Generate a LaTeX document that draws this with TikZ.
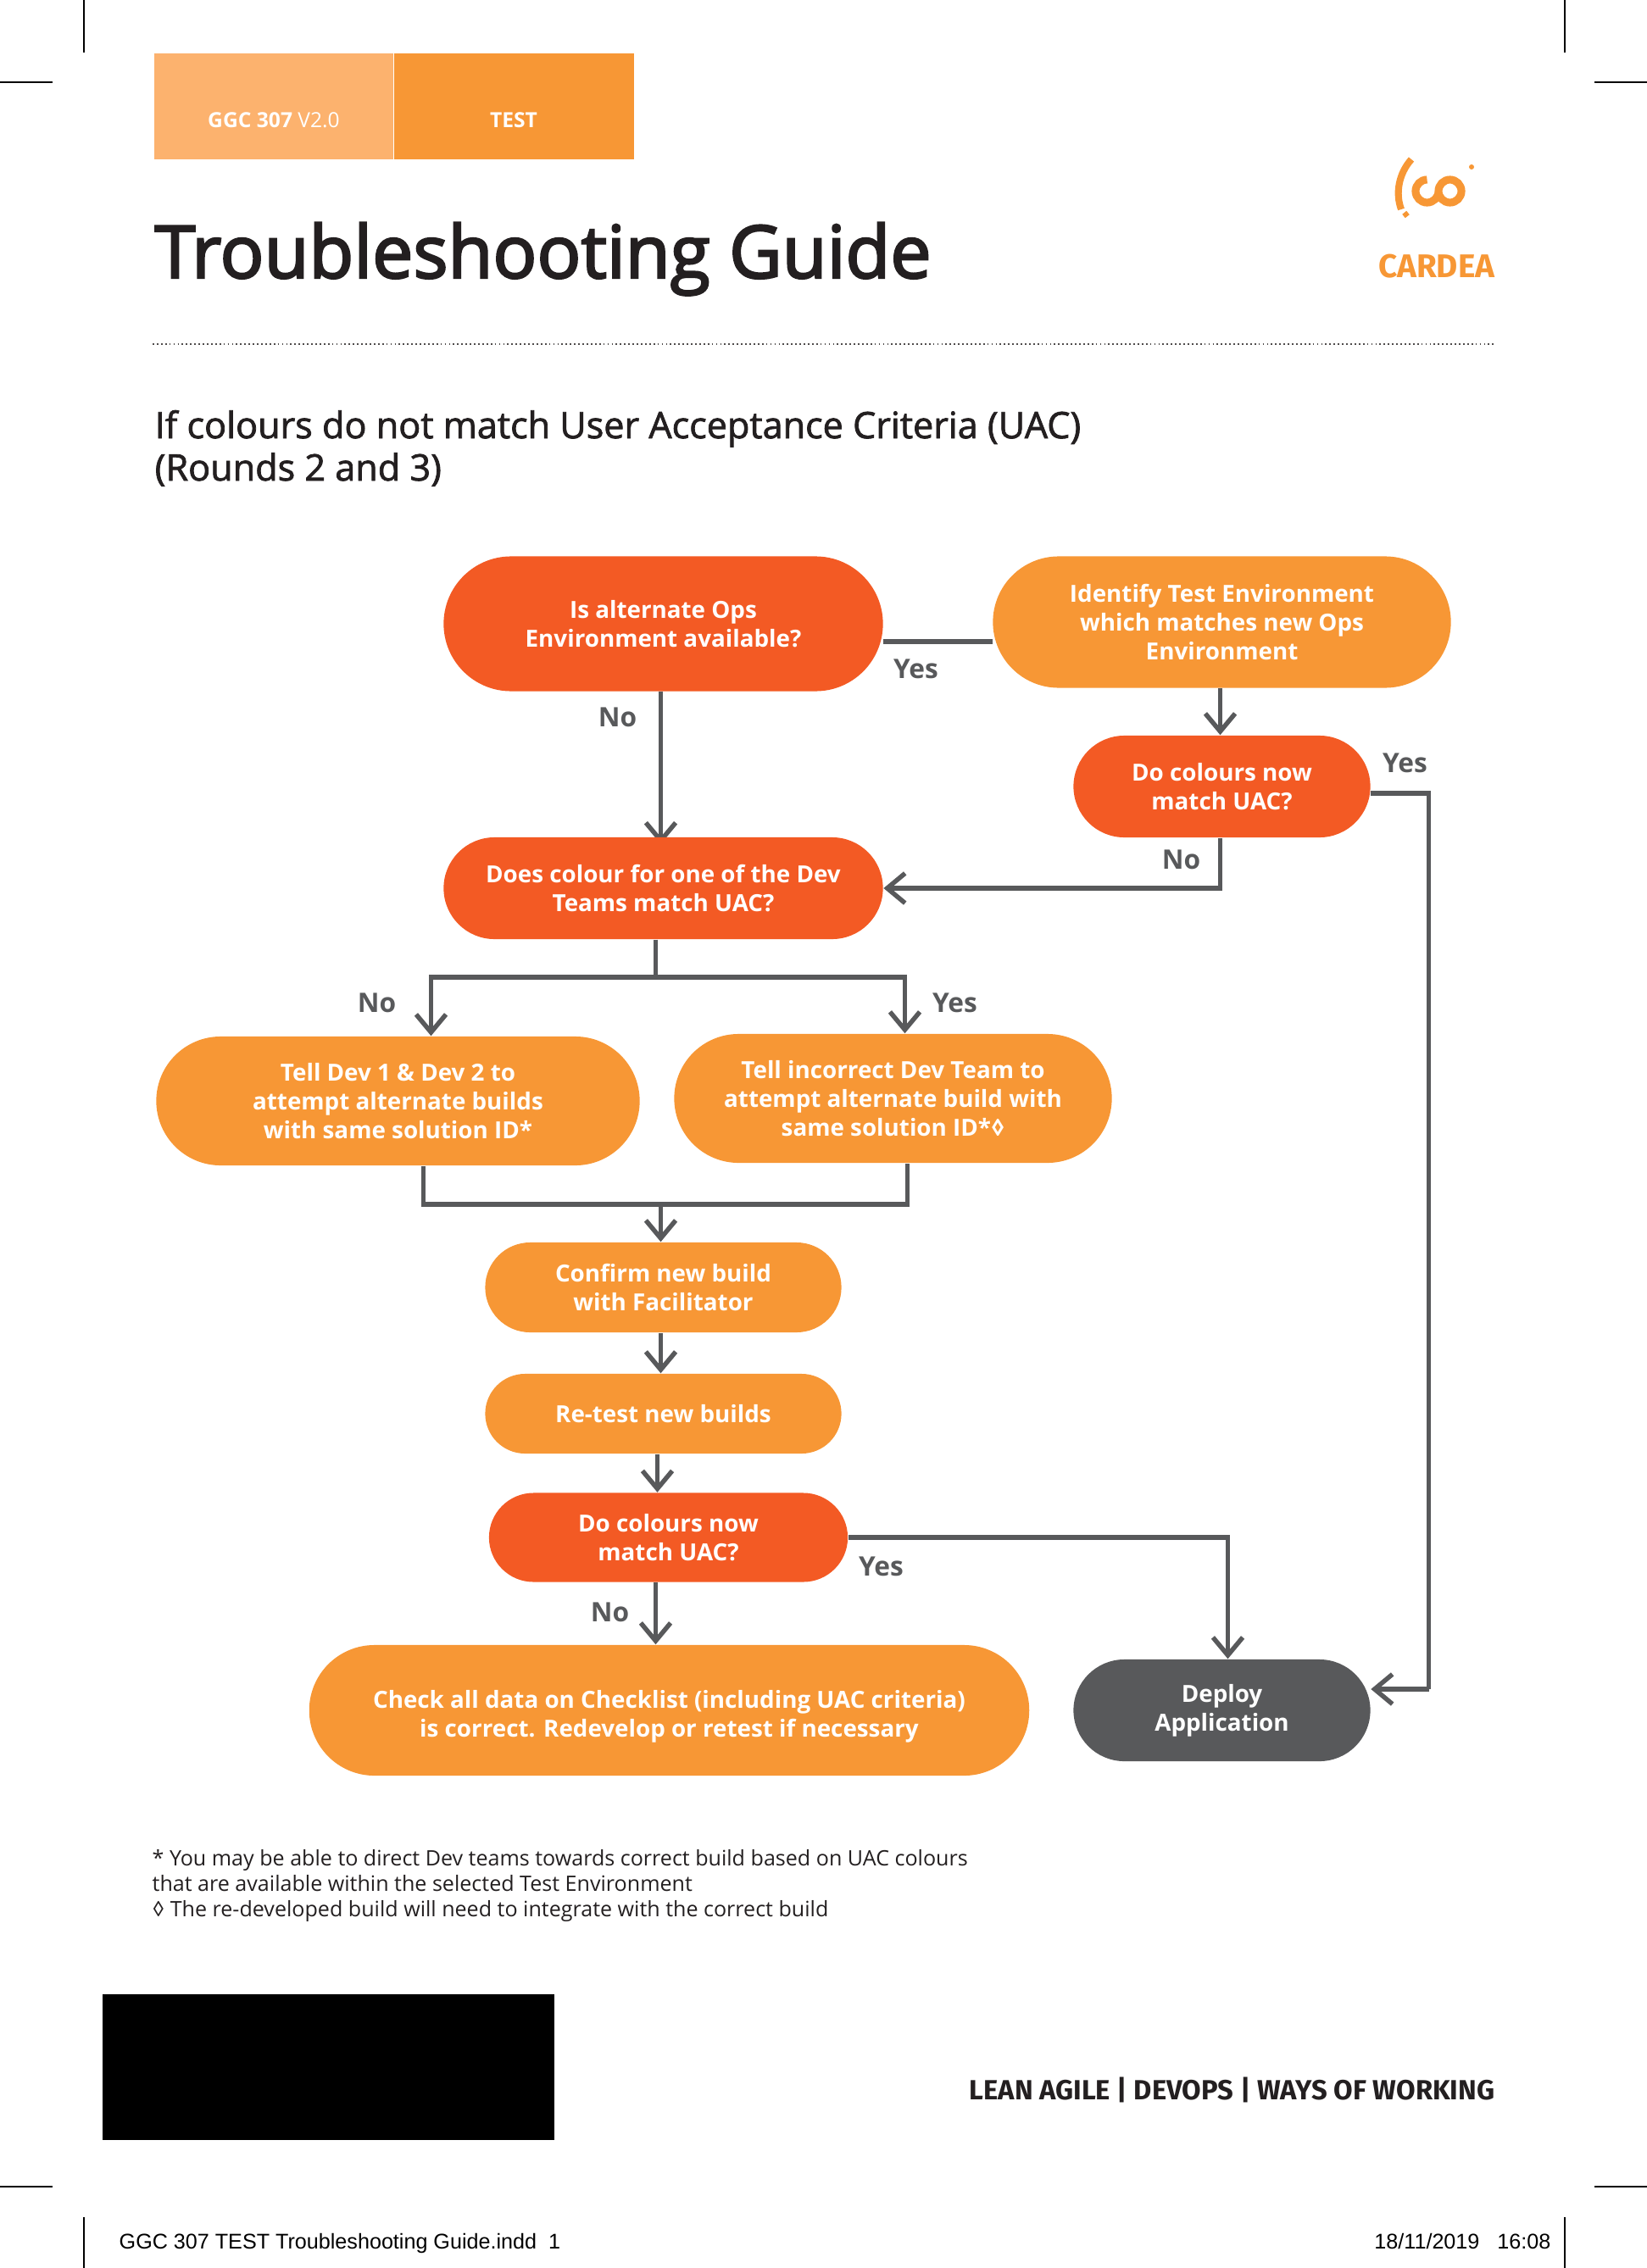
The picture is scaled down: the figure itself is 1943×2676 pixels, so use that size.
\documentclass[tikz,border=0pt]{standalone}
\usepackage{fontspec}
\setmainfont{Open Sans}
\newfontfamily\semifont[FakeBold=2.8]{Open Sans}
\newfontfamily\medfont[FakeBold=1.8]{Open Sans}
\newfontfamily\dinfont{Fira Sans}
\newfontfamily\slugfont{Liberation Sans}
\usetikzlibrary{arrows.meta,shapes.misc,backgrounds}
\definecolor{cardorange}{HTML}{F79735}
\definecolor{cardlight}{HTML}{FCB26E}
\definecolor{cardred}{HTML}{F35A24}
\definecolor{carddark}{HTML}{58595B}
\definecolor{cardink}{HTML}{231F20}

\begin{document}
\begin{tikzpicture}
[x=0.01cm,y=-0.01cm,
>={Straight Barb[length=6pt,width=10pt]},
pill/.style={rounded rectangle,inner sep=0pt,align=center,text=white,
font=\fontsize{7.9}{9.6}\selectfont\bfseries},
ask/.style={pill,fill=cardred},
act/.style={pill,fill=cardorange},
done/.style={pill,fill=carddark},
flow/.style={draw=carddark,line width=1.55pt},
answer/.style={text=carddark,inner sep=0pt,font=\fontsize{9}{11}\selectfont\bfseries},
note/.style={anchor=base west,inner sep=0pt,text=cardink,font=\fontsize{7.13}{8.6}\selectfont},
slug/.style={inner sep=0pt,text=black,font=\slugfont\fontsize{7.15}{9}\selectfont},
crop/.style={line width=0.4pt,black}]
  \useasboundingbox (0,0) rectangle (1943,2676);

  \draw [crop] (99,0) -- (99,62);
  \draw [crop] (1846,0) -- (1846,62);
  \draw [crop] (0,97) -- (62,97);
  \draw [crop] (1881,97) -- (1943,97);
  \draw [crop] (0,2580) -- (62,2580);
  \draw [crop] (1881,2580) -- (1943,2580);
  \draw [crop] (99,2616) -- (99,2676);
  \draw [crop] (1846,2616) -- (1846,2676);

  \fill [cardlight] (182,63) rectangle (464,188);
  \fill [cardorange] (465,63) rectangle (748,188);
  \node (version) [inner sep=0pt,text=white,font=\fontsize{7}{9}\selectfont] at (323,142) {\textbf{GGC 307} V2.0};
  \node (stage) [inner sep=0pt,text=white,font=\fontsize{7}{9}\selectfont\bfseries] at (606,142) {TEST};
  \node (title) [anchor=base west,inner sep=0pt,text=cardink,font=\semifont\fontsize{24.5}{28}\selectfont] at (182,328) {Troubleshooting Guide};

  \draw [cardorange,line width=2.3pt] (1665,188) .. controls (1650,205) and (1646,228) .. (1653,247);
  \draw [cardorange,line width=1.6pt] (1656,255) -- (1661,251);
  \fill [cardorange] (1736,197) circle (3);
  \draw [cardorange,line width=2.6pt] (1683.5,212) arc [start angle=90,delta angle=270,radius=0.135cm] arc [start angle=180,delta angle=-360,radius=0.135cm];
  \node (brand) [anchor=base east,inner sep=0pt,text=cardorange,font=\dinfont\fontsize{11}{12}\selectfont\bfseries] at (1764,328) {CARDEA};

  \draw [cardink!80,line width=0.5pt,dash pattern=on 0.5pt off 0.9pt] (180,406) -- (1765,406);

  \node (subhead) [anchor=base west,inner sep=0pt,align=left,text=cardink,font=\medfont\fontsize{12.27}{14.2}\selectfont] at (182,567) {If colours do not match User Acceptance Criteria (UAC)\\(Rounds 2 and 3)};

  \begin{scope}[xshift=-0.015cm]
  \node (altops) [ask,minimum width=5.18cm,minimum height=1.59cm] at (784,736) {Is alternate Ops\\Environment available?};
  \node (identify) [act,minimum width=5.40cm,minimum height=1.55cm] at (1443,734) {Identify Test Environment\\which matches new Ops\\Environment};
  \node (nowone) [ask,minimum width=3.50cm,minimum height=1.20cm] at (1443,928) {Do colours now\\match UAC?};
  \node (devmatch) [ask,minimum width=5.18cm,minimum height=1.20cm] at (784,1048) {Does colour for one of the Dev\\Teams match UAC?};
  \node (tellboth) [act,minimum width=5.70cm,minimum height=1.52cm] at (471,1299) {Tell Dev 1 \& Dev 2 to\\attempt alternate builds\\with same solution ID*};
  \node (tellone) [act,minimum width=5.16cm,minimum height=1.52cm] at (1055,1296) {Tell incorrect Dev Team to\\attempt alternate build with\\same solution ID*◊};
  \node (confirm) [act,minimum width=4.20cm,minimum height=1.06cm] at (784,1519) {Confirm new build\\with Facilitator};
  \node (retest) [act,minimum width=4.20cm,minimum height=0.94cm] at (784,1668) {Re-test new builds};
  \node (nowtwo) [ask,minimum width=4.23cm,minimum height=1.05cm] at (790,1814) {Do colours now\\match UAC?};
  \node (checkall) [act,minimum width=8.49cm,minimum height=1.54cm] at (791,2018) {\rule{0pt}{10pt}Check all data on Checklist (including UAC criteria)\\is correct. Redevelop or retest if necessary};
  \node (deploy) [done,minimum width=3.50cm,minimum height=1.20cm] at (1443,2018) {Deploy\\Application};

  \coordinate (spine) at (781,1421);
  \coordinate (fork) at (775,1153);
  \coordinate (leftdrop) at (510,1153);
  \coordinate (rightdrop) at (1069,1153);
  \coordinate (leftjoin) at (501,1421);
  \coordinate (rightjoin) at (1072,1421);
  \coordinate (outerrun) at (1687,936);
  \coordinate (outerback) at (1687,1993);
  \coordinate (deployrun) at (1450,1814);
  \coordinate (sideline) at (1441,1048);
  \coordinate (midrun) at (777,1700);
  \coordinate (altrun) at (1100,757);

  \draw [flow] (altops.east |- altrun) -- (identify.west |- altrun);
  \begin{scope}[on background layer]
    \draw [flow,->,shorten >=-2.5pt] (altops.south -| spine) -- (devmatch.north -| spine);
  \end{scope}
  \draw [flow,->] (identify.south -| sideline) -- (nowone.north -| sideline);
  \draw [flow,->] (nowone.south -| sideline) -- (sideline) -- (devmatch.east);
  \draw [flow] (nowone.east |- outerrun) -- (outerrun) -- (outerback);
  \draw [flow,->] (outerback) -- (deploy.east |- outerback);
  \draw [flow] (devmatch.south -| fork) -- (fork);
  \draw [flow,->] (fork) -- (leftdrop) -- (tellboth.north -| leftdrop);
  \draw [flow,->] (fork) -- (rightdrop) -- (tellone.north -| rightdrop);
  \draw [flow] (tellboth.south -| leftjoin) -- (leftjoin) -- (rightjoin) -- (tellone.south -| rightjoin);
  \draw [flow,->] (spine) -- (confirm.north -| spine);
  \draw [flow,->] (confirm.south -| spine) -- (retest.north -| spine);
  \draw [flow,->] (retest.south -| midrun) -- (nowtwo.north -| midrun);
  \draw [flow,->] (nowtwo.south -| fork) -- (checkall.north -| fork);
  \draw [flow,->] (nowtwo.east) -- (deployrun) -- (deploy.north -| deployrun);

  \node (yesalt) [answer] at (1082,789) {Yes};
  \node (noalt) [answer] at (730,846) {No};
  \node (yesone) [answer] at (1659,900) {Yes};
  \node (noone) [answer] at (1395,1014) {No};
  \node (noleft) [answer] at (446,1183) {No};
  \node (yesright) [answer] at (1128,1183) {Yes};
  \node (yestwo) [answer] at (1041,1848) {Yes};
  \node (notwo) [answer] at (721,1902) {No};
  \end{scope}

  \node (noteone) [note] at (179,2201) {* You may be able to direct Dev teams towards correct build based on UAC colours};
  \node (notetwo) [note] at (179,2231) {that are available within the selected Test Environment};
  \node (notethree) [note] at (179,2261) {◊ The re-developed build will need to integrate with the correct build};

  \fill [black] (121,2353) rectangle (654,2525);
  \node (strap) [anchor=base east,inner sep=0pt,text=cardink,font=\dinfont\fontsize{9.3}{10}\selectfont\bfseries] at (1764,2477) {LEAN AGILE | DEVOPS | WAYS OF WORKING};

  \node (slugname) [slug,anchor=base west] at (140,2653) {GGC 307 TEST Troubleshooting Guide.indd\ \ 1};
  \node (slugdate) [slug,anchor=base east] at (1830,2653) {18/11/2019\ \ \ 16:08};
\end{tikzpicture}
\end{document}
